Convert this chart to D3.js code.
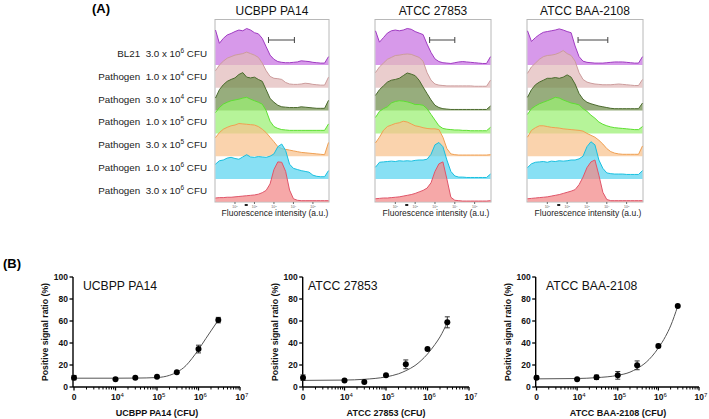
<!DOCTYPE html>
<html><head><meta charset="utf-8">
<script src="https://cdn.jsdelivr.net/npm/d3@7"></script>
<style>
html,body{margin:0;padding:0;background:#fff;}
svg{display:block;font-family:"Liberation Sans",Arial,sans-serif;}
</style></head>
<body>
<svg id="c" width="709" height="419"></svg>
<script>
// ---------- DATA ----------
const strains = ["UCBPP PA14", "ATCC 27853", "ATCC BAA-2108"];
const rowLabels = [
  {pre:"BL21  3.0 x 10", exp:"6", post:" CFU"},
  {pre:"Pathogen  1.0 x 10", exp:"4", post:" CFU"},
  {pre:"Pathogen  3.0 x 10", exp:"4", post:" CFU"},
  {pre:"Pathogen  1.0 x 10", exp:"5", post:" CFU"},
  {pre:"Pathogen  3.0 x 10", exp:"5", post:" CFU"},
  {pre:"Pathogen  1.0 x 10", exp:"6", post:" CFU"},
  {pre:"Pathogen  3.0 x 10", exp:"6", post:" CFU"}
];
const rowColors = [
  {fill:"#c872e2", stroke:"#a03cc2"},
  {fill:"#e2baba", stroke:"#cc9c9c"},
  {fill:"#6f8d4b", stroke:"#4b6a2d"},
  {fill:"#9af072", stroke:"#5ee032"},
  {fill:"#f8c28e", stroke:"#f0a052"},
  {fill:"#5ad4f0", stroke:"#18c0e0"},
  {fill:"#f28686", stroke:"#e0566a"}
];
// log10 fluorescence intensity of each histogram bin
const binLog = [0,0.2,0.4,0.6,0.8,1.0,1.2,1.4,1.6,1.8,2.0,2.2,2.4,2.6,2.8,3.0,3.2,3.4,3.6,3.8,4.0,4.2,4.4,4.6,4.8,5.0,5.2,5.4,5.6,5.8];
const histTicks = [1,2,3,4,5];
// histogram counts (relative, 0-100) per strain, per row
const histPA14 = [
  [92,57,70,79,83,88,92,90,96,92,85,82,70,48,26,15,9,7,6,6,7,8,11,10,9,7,6,5,5,22],
  [45,60,70,78,82,86,88,90,94,90,86,80,65,45,30,25,24,22,14,10,9,9,10,12,11,9,8,7,7,28],
  [33,55,68,77,82,86,95,100,88,86,88,82,77,55,32,22,14,10,9,8,8,8,10,9,8,7,6,6,6,27],
  [55,68,77,82,86,88,90,93,95,90,86,82,77,60,32,18,13,10,9,8,8,8,8,8,8,8,8,8,8,25],
  [49,62,71,76,80,82,86,85,84,83,82,78,71,62,50,38,25,20,18,16,14,12,10,9,8,7,6,5,4,36],
  [39,48,50,55,57,54,52,58,64,58,57,59,58,57,60,66,85,92,75,39,28,25,22,20,18,10,7,6,6,22],
  [10,11,11,12,12,13,14,15,16,17,18,20,24,30,47,85,105,104,80,31,8,4,3,3,3,3,3,3,3,3]
];
const hist27853 = [
  [90,60,72,84,90,92,90,92,96,94,88,84,80,55,33,16,9,6,5,4,6,8,9,8,7,6,5,4,4,22],
  [40,55,65,75,80,85,86,88,89,88,84,80,70,40,20,10,7,6,5,5,5,5,5,5,5,4,4,4,4,20],
  [40,55,65,75,80,82,85,92,99,96,92,80,62,45,28,14,8,5,4,3,3,3,3,3,3,3,3,3,3,12],
  [42,58,65,70,80,84,86,85,83,80,76,76,74,65,50,35,20,13,11,10,9,9,8,8,7,7,7,7,7,16],
  [35,50,68,78,82,86,88,92,90,85,80,78,75,73,72,72,70,50,20,6,4,3,3,3,3,3,3,3,3,4],
  [31,44,45,46,47,46,48,47,48,47,49,50,50,52,65,90,96,85,50,20,8,5,5,4,4,4,4,4,4,13],
  [8,9,10,10,11,12,13,15,17,19,22,26,30,36,50,80,100,105,60,12,4,3,2,2,2,2,2,2,2,3]
];
const histBAA = [
  [90,62,72,80,86,88,90,92,95,92,88,85,50,22,10,7,6,5,5,5,6,7,8,8,8,7,6,5,5,22],
  [38,55,65,75,82,85,86,88,92,98,90,85,70,40,22,15,12,10,9,8,8,8,9,10,9,8,7,6,6,22],
  [35,55,68,75,80,85,85,87,85,88,94,88,70,45,30,22,18,15,12,10,8,6,5,5,5,5,5,5,5,20],
  [50,65,72,78,82,86,90,95,93,88,84,80,78,75,65,58,48,40,30,24,20,17,15,14,13,12,11,10,10,18],
  [50,68,75,80,80,78,76,75,74,72,71,70,69,68,66,60,55,50,42,32,20,12,8,6,5,5,5,5,5,27],
  [30,40,44,45,46,44,47,46,48,47,48,50,50,53,60,85,98,90,50,28,16,14,13,13,13,12,12,12,12,22],
  [8,9,10,11,12,13,15,17,19,22,25,28,32,45,65,90,105,110,70,25,6,3,3,3,3,3,3,3,3,3]
];
const histData = [histPA14, hist27853, histBAA];
// gate (log10 intensity) drawn on BL21 row
const gates = [[2.72,4.05],[2.73,4.0],[2.55,4.05]];

// dose-response
const cfu = [0, 1e4, 3e4, 1e5, 3e5, 1e6, 3e6];
const ratioPA14 = [8.5, 7.0, 8.5, 9.4, 13.3, 34.5, 60.8];
const errPA14   = [2.0, 1.0, 1.0, 1.0, 1.0, 3.5, 2.5];
const ratio27853 = [8.5, 6.0, 4.6, 10.6, 20.6, 34.5, 58.8];
const err27853   = [2.5, 1.0, 1.0, 1.0, 4.0, 1.0, 5.0];
const ratioBAA = [8.5, 7.0, 8.8, 10.6, 19.7, 37.3, 73.6];
const errBAA   = [1.5, 1.0, 2.0, 3.5, 4.0, 1.5, 1.0];
// fitted curves (CFU, %)
const fitCfu = [1e3, 1e4, 3e4, 1e5, 2e5, 3e5, 5e5, 7e5, 1e6, 1.5e6, 2e6, 3e6];
const fitPA14  = [8.0, 8.0, 8.1, 8.6, 10.6, 13.4, 19.5, 26.0, 34.0, 44.0, 51.0, 60.8];
const fit27853 = [6.0, 6.3, 7.0, 9.2, 12.0, 14.8, 19.5, 24.0, 30.0, 38.5, 45.5, 58.8];
const fitBAA   = [7.4, 7.7, 8.5, 10.6, 13.5, 16.8, 22.5, 28.0, 35.5, 46.0, 55.5, 73.6];
const yTicks = [0, 20, 40, 60, 80, 100];
const xTicks = [1e3, 1e4, 1e5, 1e6, 1e7];
const xTickLabels = [{b:"0",e:""},{b:"10",e:"4"},{b:"10",e:"5"},{b:"10",e:"6"},{b:"10",e:"7"}];
const plotTitles = ["UCBPP PA14", "ATCC 27853", "ATCC BAA-2108"];
const xTitles = ["UCBPP PA14 (CFU)", "ATCC 27853 (CFU)", "ATCC BAA-2108 (CFU)"];
const yTitle = "Positive signal ratio  (%)";

// ---------- DRAW ----------
const svg = d3.select("#c");
const FONT = "'Liberation Sans', Arial, sans-serif";

// Panel A
svg.append("text").attr("x", 92).attr("y", 13).attr("font-size", 13).attr("font-weight", "bold").text("(A)");

const panelX = [[215, 329], [375, 491], [527, 643]];
const panelTop = 19.5, panelBottom = 202;
const yRow = d3.scalePoint().domain(d3.range(7)).range([65, 201.8]);
const hScale = d3.scaleLinear().domain([0, 100]).range([0, 38]);

// row labels
rowLabels.forEach((r, i) => {
  const t = svg.append("text").attr("x", 207).attr("y", yRow(i) - 8).attr("text-anchor", "end")
    .attr("font-size", 9.8).attr("fill", "#222");
  t.append("tspan").text(r.pre).attr("xml:space","preserve").style("white-space","pre");
  t.append("tspan").text(r.exp).attr("font-size", 6.5).attr("dy", -4);
  t.append("tspan").text(r.post).attr("dy", 4).style("white-space","pre");
});

strains.forEach((s, p) => {
  const [x0, x1] = panelX[p];
  const xs = d3.scaleLinear().domain([0, 5.8]).range([x0 + 0.5, x1 - 0.5]);
  const g = svg.append("g");
  g.append("text").attr("x", (x0 + x1) / 2).attr("y", 15).attr("text-anchor", "middle")
    .attr("font-size", 12).attr("fill", "#111").text(s);
  g.append("rect").attr("x", x0).attr("y", panelTop).attr("width", x1 - x0).attr("height", panelBottom - panelTop)
    .attr("fill", "#fff").attr("stroke", "#b8b8b8").attr("stroke-width", 1);
  histData[p].forEach((vals, r) => {
    const base = yRow(r);
    const pts = binLog.map((b, k) => [b, vals[k]]);
    const area = d3.area().x(d => xs(d[0])).y0(base).y1(d => base - hScale(d[1])).curve(d3.curveLinear);
    const line = d3.line().x(d => xs(d[0])).y(d => base - hScale(d[1])).curve(d3.curveLinear);
    g.append("path").attr("d", area(pts)).attr("fill", rowColors[r].fill).attr("fill-opacity", 0.72);
    g.append("path").attr("d", line(pts)).attr("fill", "none").attr("stroke", rowColors[r].stroke).attr("stroke-width", 1);
  });
  // gate bracket
  const gy = 40;
  const [ga, gb] = gates[p];
  g.append("line").attr("x1", xs(ga)).attr("x2", xs(gb)).attr("y1", gy).attr("y2", gy).attr("stroke", "#444").attr("stroke-width", 1);
  [ga, gb].forEach(v => g.append("line").attr("x1", xs(v)).attr("x2", xs(v)).attr("y1", gy - 3).attr("y2", gy + 3).attr("stroke", "#444"));
  // tiny axis
  histTicks.forEach(t => {
    g.append("line").attr("x1", xs(t)).attr("x2", xs(t)).attr("y1", panelBottom).attr("y2", panelBottom + 2).attr("stroke", "#666");
    const tt = g.append("text").attr("x", xs(t)).attr("y", panelBottom + 6).attr("text-anchor", "middle").attr("font-size", 3.5).attr("fill", "#666");
    tt.append("tspan").text("10");
    tt.append("tspan").text(t).attr("font-size", 2.5).attr("dy", -1.5);
  });
  g.append("rect").attr("x", xs(1.5)).attr("y", panelBottom + 2).attr("width", 3).attr("height", 2).attr("fill", "#222");
  g.append("text").attr("x", (x0 + x1) / 2 + 3).attr("y", 216).attr("text-anchor", "middle")
    .attr("font-size", 8.5).attr("fill", "#222").text("Fluorescence intensity (a.u.)");
});

// Panel B
svg.append("text").attr("x", 3).attr("y", 268).attr("font-size", 13).attr("font-weight", "bold").text("(B)");

const plots = [
  {ax: 73, xr: [74, 240], ratio: ratioPA14, err: errPA14, fit: fitPA14, tx: 83, ytx: 45, xtx: 157},
  {ax: 302.7, xr: [303, 469], ratio: ratio27853, err: err27853, fit: fit27853, tx: 308, ytx: 275, xtx: 386},
  {ax: 535.7, xr: [536.5, 699], ratio: ratioBAA, err: errBAA, fit: fitBAA, tx: 546, ytx: 508, xtx: 618}
];
const y = d3.scaleLinear().domain([0, 100]).range([387, 277]);
const toX = v => v === 0 ? 1e3 : v;

plots.forEach((pl, i) => {
  const g = svg.append("g");
  const x = d3.scaleLog().domain([1e3, 1e7]).range(pl.xr);
  // y axis
  g.append("line").attr("x1", pl.ax).attr("x2", pl.ax).attr("y1", y(100)).attr("y2", y(0)).attr("stroke", "#000").attr("stroke-width", 1.4);
  yTicks.forEach(t => {
    g.append("line").attr("x1", pl.ax - 3.5).attr("x2", pl.ax).attr("y1", y(t)).attr("y2", y(t)).attr("stroke", "#000").attr("stroke-width", 1.3);
    g.append("text").attr("x", pl.ax - 5).attr("y", y(t) + 3).attr("text-anchor", "end").attr("font-size", 8.5)
      .attr("font-weight", "bold").attr("fill", "#111").text(t);
  });
  // x axis
  g.append("line").attr("x1", pl.ax).attr("x2", pl.xr[1]).attr("y1", y(0)).attr("y2", y(0)).attr("stroke", "#000").attr("stroke-width", 1.4);
  const minor = [];
  [1e3, 1e4, 1e5, 1e6].forEach(d => { for (let m = 2; m <= 9; m++) minor.push(d * m); });
  minor.forEach(v => g.append("line").attr("x1", x(v)).attr("x2", x(v)).attr("y1", y(0)).attr("y2", y(0) + 2.5).attr("stroke", "#000").attr("stroke-width", 1));
  xTicks.forEach((v, k) => {
    g.append("line").attr("x1", x(v)).attr("x2", x(v)).attr("y1", y(0)).attr("y2", y(0) + 3.5).attr("stroke", "#000").attr("stroke-width", 1.3);
    const t = g.append("text").attr("x", x(v) + (k ? 2 : 0)).attr("y", 400).attr("text-anchor", "middle")
      .attr("font-size", 8.5).attr("font-weight", "bold").attr("fill", "#111");
    t.append("tspan").text(xTickLabels[k].b);
    if (xTickLabels[k].e) t.append("tspan").text(xTickLabels[k].e).attr("font-size", 6).attr("dy", -3.5).attr("font-weight", "normal");
  });
  // titles
  g.append("text").attr("x", pl.tx).attr("y", 289.5).attr("font-size", 12.2).attr("fill", "#111").text(plotTitles[i]);
  g.append("text").attr("transform", `translate(${pl.ytx + 3},332) rotate(-90)`).attr("text-anchor", "middle")
    .attr("font-size", 8.7).attr("font-weight", "bold").attr("fill", "#111").text(yTitle);
  g.append("text").attr("x", pl.xtx).attr("y", 416).attr("text-anchor", "middle")
    .attr("font-size", 9).attr("font-weight", "bold").attr("fill", "#111").text(xTitles[i]);
  // fit curve
  const fitPts = fitCfu.map((c, k) => [c, pl.fit[k]]);
  g.append("path").attr("d", d3.line().x(d => x(d[0])).y(d => y(d[1])).curve(d3.curveMonotoneX)(fitPts))
    .attr("fill", "none").attr("stroke", "#555").attr("stroke-width", 1);
  // error bars + points
  cfu.forEach((c, k) => {
    const cx = x(toX(c)), v = pl.ratio[k], e = pl.err[k];
    if (e > 1.2) {
      g.append("line").attr("x1", cx).attr("x2", cx).attr("y1", y(v - e)).attr("y2", y(v + e)).attr("stroke", "#333").attr("stroke-width", 1);
      [v - e, v + e].forEach(w => g.append("line").attr("x1", cx - 2.5).attr("x2", cx + 2.5).attr("y1", y(w)).attr("y2", y(w)).attr("stroke", "#333").attr("stroke-width", 1));
    }
    g.append("circle").attr("cx", cx).attr("cy", y(v)).attr("r", 3).attr("fill", "#000");
  });
});
</script>
</body></html>
